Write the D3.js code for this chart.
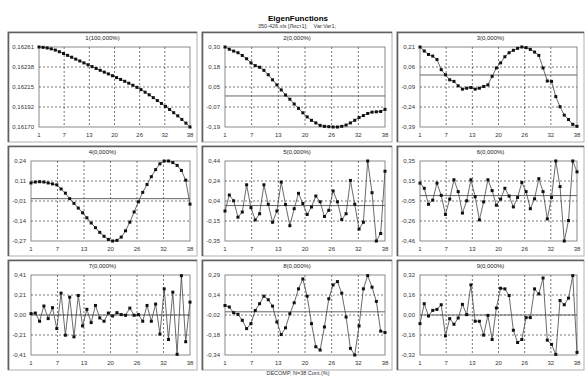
<!DOCTYPE html>
<html>
<head>
<meta charset="utf-8">
<script src="https://cdn.jsdelivr.net/npm/d3@7"></script>
<style>
  body { margin: 0; background: #fff; }
  svg text { font-family: "Liberation Sans", Arial, sans-serif; }
</style>
</head>
<body>
<div id="chart"></div>
<script>
// x axis (same for every panel)
const xLabels = ["1", "7", "13", "20", "26", "32", "38"];

const titles = ["1(100,000%)", "2(0,000%)", "3(0,000%)", "4(0,000%)", "5(0,000%)",
  "6(0,000%)", "7(0,000%)", "8(0,000%)", "9(0,000%)"];

// y tick labels, top to bottom
const yLabels = [
  ["0,16261", "0,16238", "0,16215", "0,16192", "0,16170"],
  ["0,30", "0,18", "0,05", "-0,07", "-0,19"],
  ["0,21", "0,06", "-0,09", "-0,24", "-0,39"],
  ["0,24", "0,11", "-0,01", "-0,14", "-0,27"],
  ["0,44", "0,24", "0,04", "-0,15", "-0,35"],
  ["0,35", "0,15", "-0,05", "-0,26", "-0,46"],
  ["0,41", "0,21", "0,00", "-0,21", "-0,41"],
  ["0,29", "0,14", "-0,02", "-0,18", "-0,34"],
  ["0,32", "0,16", "0,00", "-0,16", "-0,32"]
];

const f1 = [0.16261, 0.162606, 0.162599, 0.162589, 0.162575, 0.162556, 0.162536, 0.162515,
  0.162494, 0.162472, 0.162451, 0.162429, 0.162408, 0.162387, 0.162366, 0.162345, 0.162324,
  0.162304, 0.162283, 0.162262, 0.162241, 0.16222, 0.162198, 0.162175, 0.162151, 0.162125,
  0.162096, 0.162066, 0.162034, 0.162001, 0.161968, 0.161934, 0.161899, 0.161863, 0.161827,
  0.161786, 0.161744, 0.1617];
const f2 = [0.30, 0.286, 0.275, 0.265, 0.248, 0.228, 0.203, 0.186, 0.176, 0.157, 0.13, 0.099,
  0.068, 0.037, 0.006, -0.02, -0.049, -0.076, -0.103, -0.128, -0.149, -0.165, -0.18, -0.186,
  -0.188, -0.19, -0.19, -0.186, -0.178, -0.165, -0.149, -0.132, -0.12, -0.107, -0.099, -0.097,
  -0.095, -0.082];
const f3 = [0.21, 0.18, 0.154, 0.142, 0.116, 0.04, 0.002, -0.036, -0.048, -0.081, -0.106,
  -0.099, -0.094, -0.106, -0.099, -0.086, -0.074, -0.01, 0.053, 0.091, 0.137, 0.167, 0.185,
  0.2, 0.21, 0.205, 0.192, 0.172, 0.147, 0.053, -0.045, -0.048, -0.162, -0.238, -0.301,
  -0.334, -0.37, -0.385];
const f4 = [0.1, 0.106, 0.108, 0.106, 0.1, 0.094, 0.088, 0.062, 0.035, 0.0, -0.03, -0.06,
  -0.09, -0.122, -0.155, -0.185, -0.215, -0.24, -0.26, -0.27, -0.266, -0.245, -0.205, -0.15,
  -0.085, -0.02, 0.04, 0.09, 0.14, 0.185, 0.222, 0.24, 0.24, 0.23, 0.212, 0.18, 0.118, -0.035];
const f5 = [-0.054, 0.104, 0.047, -0.115, -0.064, 0.205, -0.021, -0.142, -0.081, 0.205,
  0.013, -0.165, -0.054, 0.232, 0.01, -0.199, -0.031, 0.121, 0.02, -0.088, -0.014, 0.094,
  0.037, -0.108, -0.047, 0.144, 0.037, -0.138, -0.081, 0.248, 0.013, -0.232, -0.165, 0.44,
  0.127, -0.35, -0.276, 0.339];
const f6 = [0.126, 0.074, -0.088, -0.046, 0.126, 0.002, -0.191, -0.036, 0.16, 0.04, -0.177,
  -0.053, 0.16, -0.012, -0.246, -0.064, 0.16, 0.05, -0.098, -0.036, 0.074, -0.005, -0.115,
  -0.019, 0.133, 0.04, -0.133, -0.033, 0.171, 0.04, -0.236, -0.019, 0.35, 0.091, -0.46,
  -0.253, 0.35, 0.24];
const f7 = [0.014, 0.02, -0.064, 0.092, -0.037, 0.075, -0.139, 0.224, -0.207, 0.183, -0.224,
  0.2, -0.112, 0.058, -0.078, 0.098, -0.03, -0.064, 0.02, -0.01, 0.024, 0.004, -0.003, 0.071,
  -0.003, 0.004, -0.064, 0.098, -0.064, 0.112, -0.196, 0.268, -0.251, 0.234, -0.403, 0.403,
  -0.274, 0.132];
const f8 = [0.05, 0.038, -0.007, -0.02, -0.067, -0.132, -0.093, 0.011, 0.064, 0.123, 0.095,
  0.045, -0.08, -0.179, -0.126, -0.015, 0.071, 0.181, 0.259, 0.123, -0.093, -0.275, -0.301,
  -0.119, 0.103, 0.212, 0.238, 0.147, -0.041, -0.288, -0.34, -0.111, 0.181, 0.285, 0.194,
  0.082, -0.152, -0.163];
const f9 = [-0.069, 0.09, -0.008, 0.037, 0.045, 0.082, -0.167, -0.029, -0.074, -0.024, 0.085,
  0.003, 0.241, -0.05, -0.05, -0.161, -0.003, -0.196, 0.056, 0.214, 0.209, 0.156, -0.122,
  -0.22, -0.196, -0.021, -0.021, 0.209, 0.169, 0.296, -0.201, -0.235, -0.315, 0.116, 0.082,
  0.135, 0.315, -0.299];

const series = [f1, f2, f3, f4, f5, f6, f7, f8, f9];

const width = 585, height = 376;
const num = s => +s.replace(",", ".");

const svg = d3.select("#chart").append("svg")
  .attr("width", width)
  .attr("height", height);

svg.append("text")
  .attr("x", 298).attr("y", 21)
  .attr("text-anchor", "middle")
  .style("font-size", "8px").style("font-weight", "bold")
  .text("EigenFunctions");

svg.append("text")
  .attr("x", 297).attr("y", 27.5)
  .attr("text-anchor", "middle")
  .style("font-size", "5.5px").style("fill", "#333")
  .style("white-space", "pre")
  .text("350-426.xls [Лист1];    Var:Var1;");

svg.append("text")
  .attr("x", 298).attr("y", 374.5)
  .attr("text-anchor", "middle")
  .style("font-size", "5.5px").style("fill", "#333")
  .text("DECOMP, N=38 Cont.(%)");

const colX = [8, 202, 397], colW = [189, 190, 187];
const rowY = [32, 146, 260];
const panelH = 110, plotTop = 15, plotH = 80;

series.forEach((vals, i) => {
  const c = i % 3, r = Math.floor(i / 3);
  const w = colW[c];
  const g = svg.append("g").attr("transform", `translate(${colX[c]},${rowY[r]})`);

  // panel frame
  g.append("rect").attr("width", w).attr("height", panelH)
    .attr("fill", "#fff").attr("stroke", "#b0b0b0");
  g.append("path").attr("d", `M0.5,${panelH}V0.5H${w}`)
    .attr("fill", "none").attr("stroke", "#606060").attr("stroke-width", 1.6);

  g.append("text")
    .attr("x", w / 2).attr("y", 8)
    .attr("text-anchor", "middle")
    .style("font-size", "6px").style("fill", "#222")
    .text(titles[i]);

  // y tick labels, measured to set the left margin
  const labs = yLabels[i];
  const tmp = g.append("g");
  let maxW = 0;
  labs.forEach(l => {
    const t = tmp.append("text").style("font-size", "6px").text(l);
    maxW = Math.max(maxW, t.node().getComputedTextLength());
  });
  tmp.remove();

  const left = Math.round(maxW + 9);
  const right = w - 7;

  const x = d3.scaleLinear().domain([1, 38]).range([left, right]);
  const y = d3.scaleLinear()
    .domain([num(labs[labs.length - 1]), num(labs[0])])
    .range([plotTop + plotH, plotTop]);

  const plot = g.append("g");
  plot.append("rect")
    .attr("x", left).attr("y", plotTop)
    .attr("width", right - left).attr("height", plotH)
    .attr("fill", "#fff").attr("stroke", "#8a8a8a");

  const yPos = labs.map((l, k) => plotTop + k * plotH / (labs.length - 1));
  const xVals = xLabels.map((l, k) => 1 + k * 37 / (xLabels.length - 1));

  // dashed grid on inner ticks
  plot.selectAll("line.gy").data(yPos.slice(1, -1)).join("line")
    .attr("x1", left).attr("x2", right)
    .attr("y1", d => d).attr("y2", d => d)
    .attr("stroke", "#555").attr("stroke-dasharray", "2,2").attr("stroke-width", 0.8);
  plot.selectAll("line.gx").data(xVals.slice(1, -1)).join("line")
    .attr("x1", d => x(d)).attr("x2", d => x(d))
    .attr("y1", plotTop).attr("y2", plotTop + plotH)
    .attr("stroke", "#555").attr("stroke-dasharray", "2,2").attr("stroke-width", 0.8);

  // zero line
  const [lo, hi] = y.domain();
  if (lo < 0 && hi > 0) {
    plot.append("line")
      .attr("x1", left).attr("x2", right)
      .attr("y1", y(0)).attr("y2", y(0))
      .attr("stroke", "#666").attr("stroke-width", 1);
  }

  g.selectAll("text.yl").data(labs).join("text")
    .attr("x", left - 5).attr("y", (d, k) => yPos[k] + 2)
    .attr("text-anchor", "end")
    .style("font-size", "6px").style("fill", "#333")
    .text(d => d);

  g.selectAll("text.xl").data(xLabels).join("text")
    .attr("x", (d, k) => x(xVals[k]))
    .attr("y", plotTop + plotH + 10)
    .attr("text-anchor", "middle")
    .style("font-size", "6px").style("fill", "#333")
    .text(d => d);

  const line = d3.line().x((d, k) => x(k + 1)).y(d => y(d));
  plot.append("path").datum(vals)
    .attr("d", line)
    .attr("fill", "none").attr("stroke", "#444").attr("stroke-width", 0.8);

  plot.selectAll("rect.pt").data(vals).join("rect")
    .attr("x", (d, k) => x(k + 1) - 1.5)
    .attr("y", d => y(d) - 1.5)
    .attr("width", 3).attr("height", 3)
    .attr("fill", "#111");
});
</script>
</body>
</html>
